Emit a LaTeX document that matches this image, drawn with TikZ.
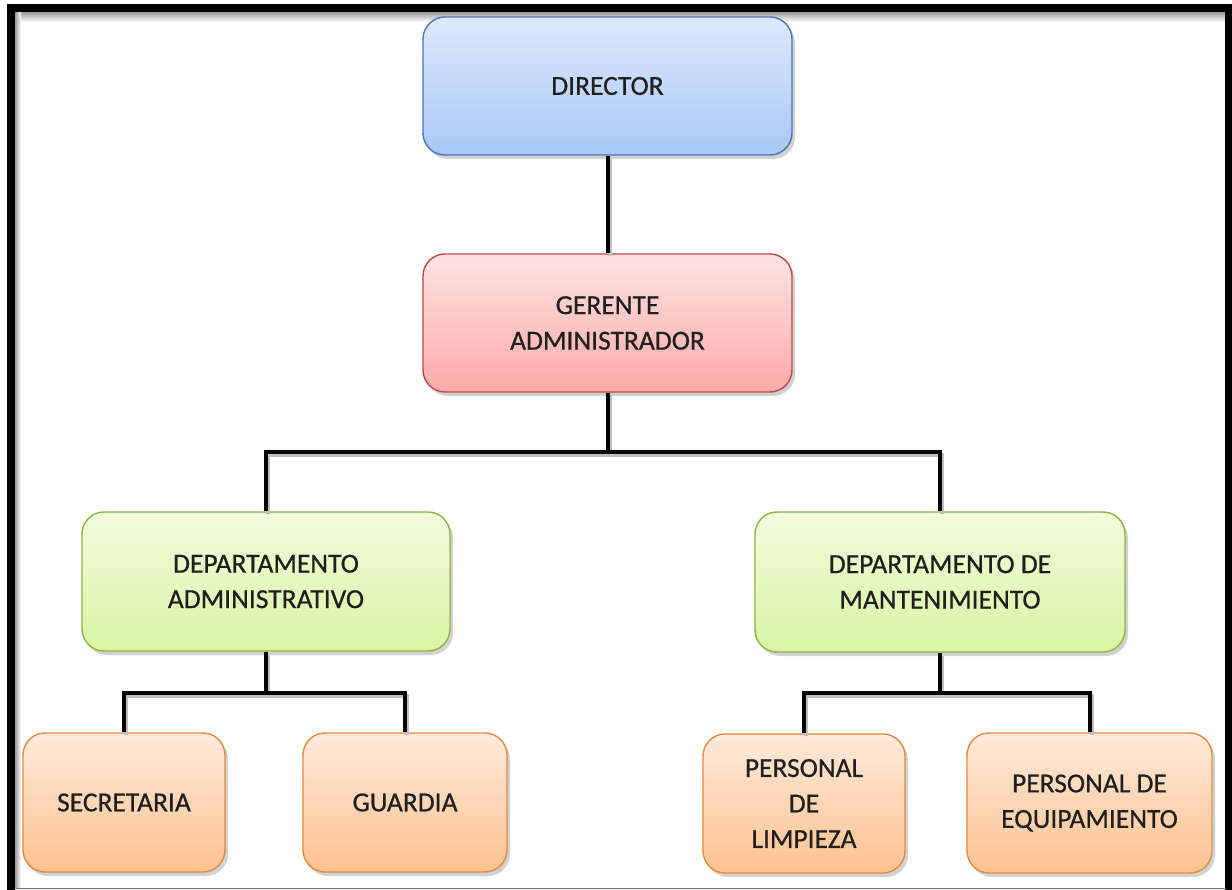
\documentclass[tikz,border=0pt]{standalone}
\usepackage{fontspec}
\setmainfont{Carlito}[FakeBold=0.6]
\usetikzlibrary{shadows}
\definecolor{bluetop}{HTML}{DDE8FB}
\definecolor{bluebot}{HTML}{A9C8F7}
\definecolor{blueedge}{HTML}{4A77B4}
\definecolor{redtop}{HTML}{FFE3E3}
\definecolor{redbot}{HTML}{FFA9A9}
\definecolor{rededge}{HTML}{B84A4A}
\definecolor{greentop}{HTML}{F2FBDE}
\definecolor{greenbot}{HTML}{D9F5A3}
\definecolor{greenedge}{HTML}{8DB247}
\definecolor{orangetop}{HTML}{FFEADB}
\definecolor{orangebot}{HTML}{FFC28F}
\definecolor{orangeedge}{HTML}{E08A44}
\tikzset{
  box/.style={rectangle, rounded corners=22pt, line width=1.4pt, align=center,
    inner sep=0pt, text=black!88,
    font=\fontsize{27.5}{35.5}\selectfont,
    drop shadow={opacity=0.35, shadow xshift=3pt, shadow yshift=-4pt}},
  bluebox/.style={box, draw=blueedge, top color=bluetop, bottom color=bluebot},
  redbox/.style={box, draw=rededge, top color=redtop, bottom color=redbot},
  greenbox/.style={box, draw=greenedge, top color=greentop, bottom color=greenbot},
  orangebox/.style={box, draw=orangeedge, top color=orangetop, bottom color=orangebot},
  conn/.style={line width=4pt, black,
    preaction={draw=black!25, line width=4pt, transform canvas={shift={(2pt,-3pt)}}}},
  frame/.style={line width=8pt, black}
}
\begin{document}
\begin{tikzpicture}[x=1pt,y=1pt]
\useasboundingbox (0,0) rectangle (1232,-890);
\fill[white] (0,0) rectangle (1232,-890);
% inner shadow of frame
\shade[top color=black!40, bottom color=white] (15,-12) rectangle (1226,-22);
\shade[left color=black!40, right color=white] (15,-12) rectangle (21,-888);
% frame
\draw[frame] (11,-890) -- (11,-8) -- (1229,-8) -- (1229,-890);
\draw[black!55, line width=1.2pt] (15,-888.5) -- (1226,-888.5);

% nodes
\node[bluebox, minimum width=369pt, minimum height=138pt] (dir) at (607.5,-86) {DIRECTOR};
\node[redbox, minimum width=369pt, minimum height=138pt] (ger) at (607.5,-323) {GERENTE\\ADMINISTRADOR};
\node[greenbox, minimum width=368pt, minimum height=139pt] (dadm) at (266,-581.5) {DEPARTAMENTO\\ADMINISTRATIVO};
\node[greenbox, minimum width=370pt, minimum height=140pt] (dman) at (940,-582) {DEPARTAMENTO DE\\MANTENIMIENTO};
\node[orangebox, minimum width=202pt, minimum height=139pt] (sec) at (124,-802.5) {SECRETARIA};
\node[orangebox, minimum width=204pt, minimum height=139pt] (gua) at (405,-802.5) {GUARDIA};
\node[orangebox, minimum width=202pt, minimum height=139pt] (lim) at (804,-803.5) {PERSONAL\\DE\\LIMPIEZA};
\node[orangebox, minimum width=245pt, minimum height=140pt] (equ) at (1089.5,-803) {PERSONAL DE\\EQUIPAMIENTO};

% bus points
\coordinate (bus1) at (607.5,-452);
\coordinate (bus2) at (266,-693);
\coordinate (bus3) at (940,-693);

% connectors
\draw[conn] (dir.south) -- (ger.north);
\draw[conn] (ger.south) -- (bus1);
\draw[conn] (dadm.north) |- (bus1) -| (dman.north);
\draw[conn] (dadm.south) -- (bus2);
\draw[conn] (sec.north) |- (bus2) -| (gua.north);
\draw[conn] (dman.south) -- (bus3);
\draw[conn] (lim.north) |- (bus3) -| (equ.north);
\end{tikzpicture}
\end{document}
